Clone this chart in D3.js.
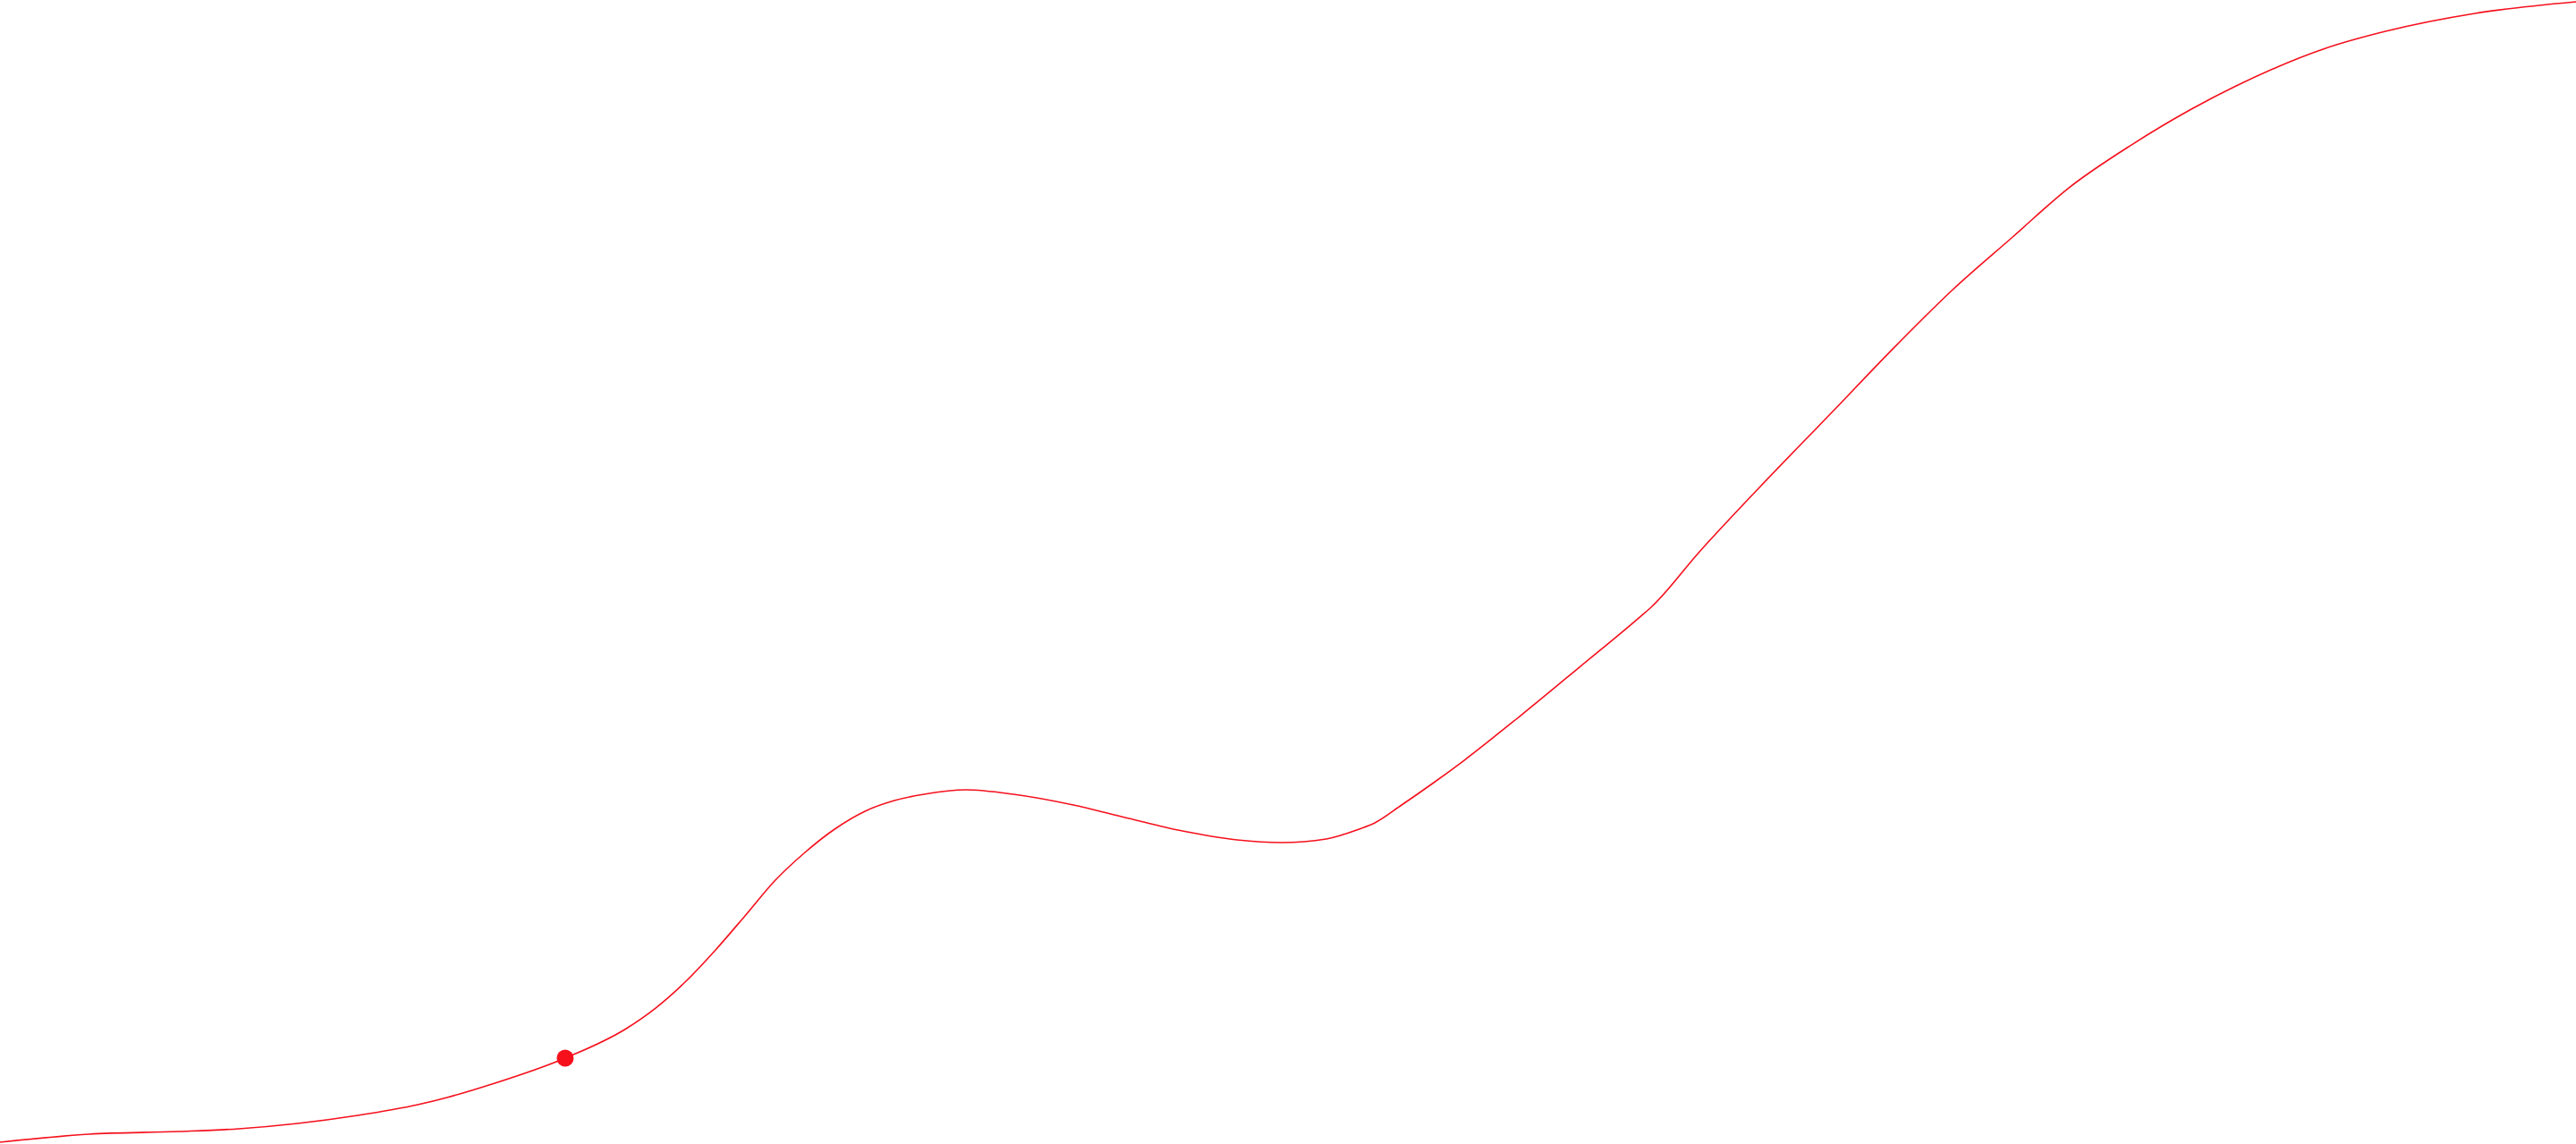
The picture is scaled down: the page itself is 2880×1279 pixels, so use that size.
<html lang="en">
<head>
  <meta charset="UTF-8">
  <script src="https://d3js.org/d3.v7.min.js"></script>
  <title>Curve</title>
  <style>
    body { margin: 0; background: #fff; }
    svg { display: block; }
    .line { fill: none; stroke: #f5101c; stroke-width: 1.6; }
    .dot { fill: #f5101c; }
  </style>
  <script>
// x: progress (0-100), y: value (0-100)
var xs = [0, 3.47, 6.94, 9.27, 11.56, 13.89, 16.22, 17.36, 19.10, 21.94,
          24.31, 25.45, 26.63, 27.78, 28.92, 30.10, 31.25, 32.40, 33.58, 34.72,
          35.87, 37.50,
          39.34, 41.67, 43.40, 45.73, 48.02, 49.76, 51.49, 52.67, 53.37,
          54.41, 55.56, 56.84, 59.03, 61.35, 63.65, 64.13,
          65.97, 68.30, 71.18, 73.51, 75.80, 78.13, 80.31,
          82.74, 85.07, 86.81, 90.28, 92.60, 96.08, 100];
var ys = [0.16, 0.86, 1.09, 1.33, 1.80, 2.50, 3.44, 4.07, 5.24, 7.51,
          10.09, 11.88, 14.23, 16.97, 19.94, 23.06, 25.49, 27.52, 29.09, 30.02,
          30.57, 30.96,
          30.57, 29.63, 28.69, 27.44, 26.58, 26.35, 26.66, 27.44, 28.07,
          29.63, 31.43, 33.54, 37.45, 41.75, 46.05, 46.99,
          51.76, 57.39, 64.11, 69.58, 74.67, 79.28, 83.58,
          87.33, 90.46, 92.49, 95.78, 97.26, 98.83, 99.84];
// highlighted point
var markX = [21.94];
var markY = [7.51];

function main(){
  var width = 2880, height = 1279;
  var svg = d3.select("svg").attr("width", width).attr("height", height);

  var xscale = d3.scaleLinear().domain([0, 100]).range([0, width]);
  var yscale = d3.scaleLinear().domain([0, 100]).range([height, 0]);

  var data = xs.map(function(x, i){ return {x: x, y: ys[i]}; });

  var line = d3.line()
      .x(function(d){ return xscale(d.x); })
      .y(function(d){ return yscale(d.y); })
      .curve(d3.curveMonotoneX);

  svg.append("path")
      .datum(data)
      .attr("class", "line")
      .attr("d", line);

  svg.selectAll(".dot")
      .data(markX.map(function(x, i){ return {x: x, y: markY[i]}; }))
      .enter().append("circle")
      .attr("class", "dot")
      .attr("cx", function(d){ return xscale(d.x); })
      .attr("cy", function(d){ return yscale(d.y); })
      .attr("r", 9.5);
}
  </script>
</head>
<body onload="main();">
  <svg></svg>
</body>
</html>
